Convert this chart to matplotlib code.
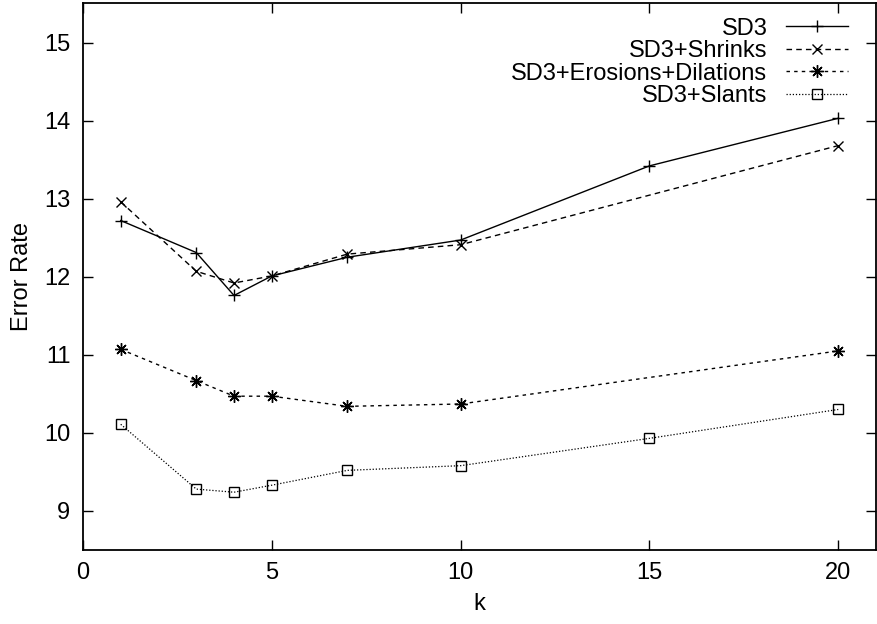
import matplotlib
matplotlib.use("Agg")
import matplotlib.pyplot as plt

plt.rcParams['font.family'] = ['Liberation Sans', 'DejaVu Sans']

k_sd3 = [1, 3, 4, 5, 7, 10, 15, 20]
sd3 = [12.72, 12.31, 11.76, 12.01, 12.25, 12.47, 13.42, 14.03]

k_shrinks = [1, 3, 4, 5, 7, 10, 20]
shrinks = [12.96, 12.07, 11.92, 12.01, 12.29, 12.41, 13.68]

k_erosions = [1, 3, 4, 5, 7, 10, 20]
erosions = [11.07, 10.67, 10.47, 10.47, 10.34, 10.37, 11.05]

k_slants = [1, 3, 4, 5, 7, 10, 15, 20]
slants = [10.11, 9.28, 9.24, 9.33, 9.52, 9.58, 9.93, 10.30]

fig = plt.figure(figsize=(8.77, 6.24), dpi=100)
ax = fig.add_axes([0.0946, 0.1186, 0.9043, 0.8758])

ax.plot(k_sd3, sd3, color='k', linestyle='-', linewidth=1.0,
        marker='+', markersize=9, markeredgewidth=1.0, label='SD3')
ax.plot(k_shrinks, shrinks, color='k', linestyle=(0, (4, 3)), linewidth=1.0,
        marker='x', markersize=7, markeredgewidth=1.0, label='SD3+Shrinks')
ax.plot(k_erosions, erosions, color='k', linestyle=(0, (2.5, 3)), linewidth=1.0,
        marker=(8, 2, 0), markersize=9, markeredgewidth=1.0,
        label='SD3+Erosions+Dilations')
ax.plot(k_slants, slants, color='k', linestyle=(0, (1, 1.5)), linewidth=0.9,
        marker='s', markersize=7, markerfacecolor='none', markeredgewidth=1.0,
        label='SD3+Slants')

ax.set_xlim(0, 21)
ax.set_ylim(8.5, 15.5)
ax.set_xticks([0, 5, 10, 15, 20])
ax.set_yticks([9, 10, 11, 12, 13, 14, 15])
ax.tick_params(direction='in', length=7, width=1.0, labelsize=17,
               top=True, right=True, pad=9)
for s in ax.spines.values():
    s.set_linewidth(1.3)

ax.set_xlabel('k', fontsize=17, labelpad=6)
ax.set_ylabel('Error Rate', fontsize=17, labelpad=8)

ax.legend(loc='upper right', frameon=False, markerfirst=False, fontsize=17,
          handlelength=2.6, labelspacing=0.02, handletextpad=0.8,
          borderaxespad=0.2, bbox_to_anchor=(0.982, 1.0))

fig.savefig('out.png', dpi=100)
